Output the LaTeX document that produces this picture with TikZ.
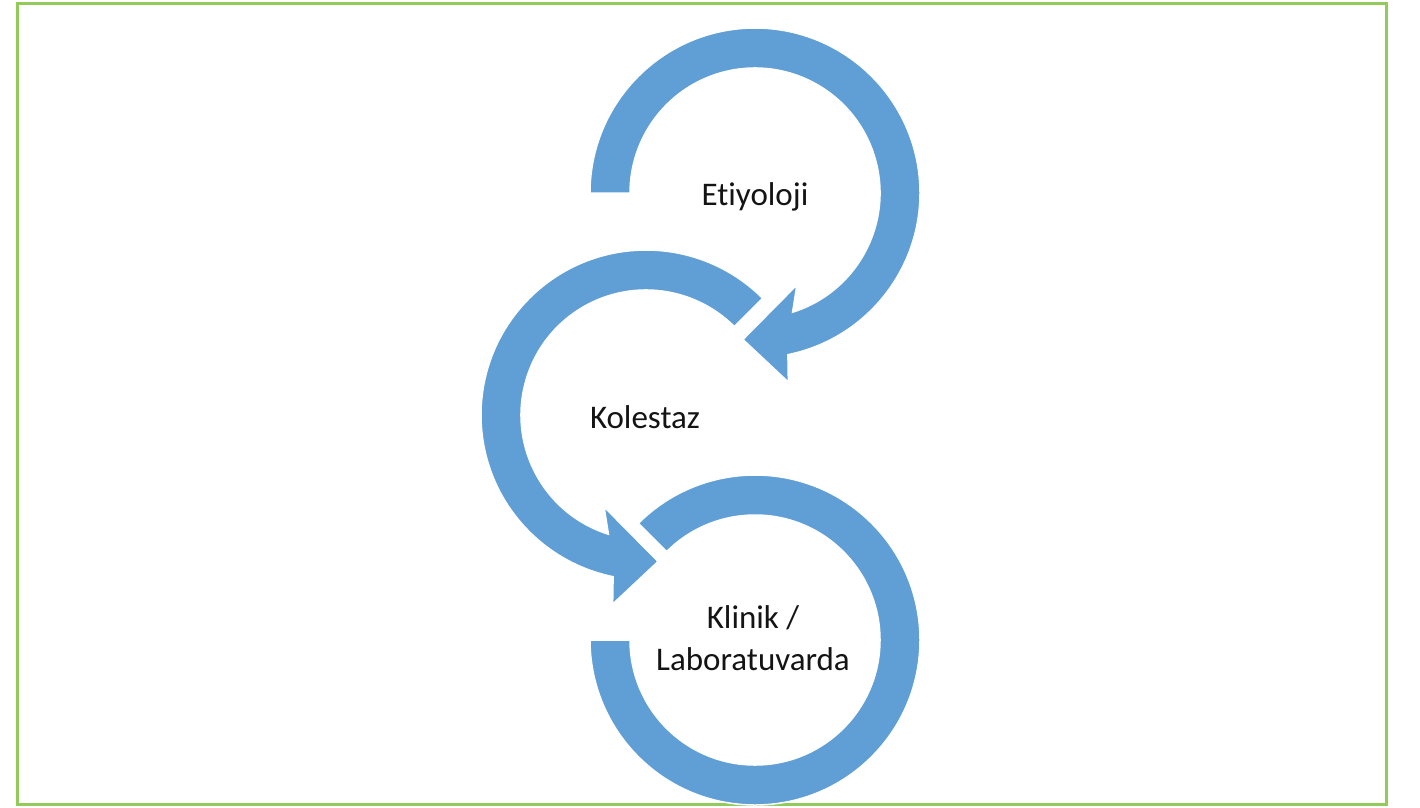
\documentclass[tikz,border=0pt]{standalone}
\usepackage{fontspec}
\setmainfont{Carlito}[Ligatures={NoCommon}]
\usetikzlibrary{calc}
\definecolor{arrowblue}{RGB}{96,158,214}
\definecolor{framegreen}{RGB}{146,203,90}
\definecolor{textdark}{RGB}{20,20,20}
\tikzset{
  cyclearrow/.style={fill=arrowblue, draw=white, line width=1.5pt, line join=miter},
  label text/.style={font=\fontsize{33}{42}\selectfont, text=textdark, inner sep=0pt, align=center},
}
\begin{document}
\begin{tikzpicture}[x=1pt,y=-1pt]
\useasboundingbox (0,0) rectangle (1420,807);
\fill[white] (0,0) rectangle (1420,807);
\draw[framegreen, line width=3pt] (17,3) rectangle (1386,804);
\coordinate (c1) at (755,193);
\coordinate (c2) at (646,415);
\coordinate (c3) at (755,640);
% circle 1 (Etiyoloji)
\path[cyclearrow] ($(c1)+(180:165)$) arc[start angle=180, end angle=438.5, radius=165]
  -- ($(c1)+(80:192)$) -- ($(c1)+(94.7:147)$) -- ($(c1)+(65.5:101)$)
  -- ($(c1)+(72.5:125)$) arc[start angle=432.5, end angle=180, radius=125] -- cycle;
% circle 2 (Kolestaz)
\path[cyclearrow] ($(c2)+(-45:165)$) arc[start angle=-45, end angle=-258.5, radius=165]
  -- ($(c2)+(100:192)$) -- ($(c2)+(85.3:147)$) -- ($(c2)+(114.5:101)$)
  -- ($(c2)+(107.5:125)$) arc[start angle=-252.5, end angle=-45, radius=125] -- cycle;
% circle 3 (Klinik / Laboratuvarda)
\path[cyclearrow] ($(c3)+(-135:165)$) arc[start angle=-135, end angle=180, radius=165]
  -- ($(c3)+(180:125)$) arc[start angle=180, end angle=-135, radius=125] -- cycle;
\node[label text, anchor=base] (etiyoloji) at (755,205) {Etiyoloji};
\node[label text, anchor=base] (kolestaz) at (645,428) {Kolestaz};
\node[label text, anchor=base] (klinik) at (753,670) {Klinik /\\Laboratuvarda};
\end{tikzpicture}
\end{document}
